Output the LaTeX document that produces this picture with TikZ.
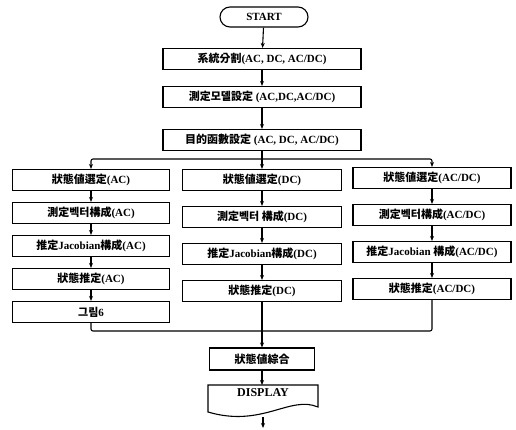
\documentclass[tikz,border=0pt]{standalone}
\usepackage{fontspec}
\setmainfont{Liberation Serif}
\newfontfamily\cjk{Noto Sans CJK KR}
\newcommand\kk[1]{{\cjk\bfseries #1}}
\usetikzlibrary{arrows.meta}
\tikzset{
  box/.style={draw, line width=1.1pt, minimum height=21pt, inner sep=0pt,
              font=\bfseries\fontsize{11}{13}\selectfont},
  lbox/.style={box, minimum width=157pt},
  mbox/.style={box, minimum width=159pt},
  rbox/.style={box, minimum width=158pt},
  tbox/.style={box, minimum width=198pt},
  ln/.style={line width=1.1pt},
  arr/.style={line width=1.1pt, -{Stealth[length=5pt,width=4pt]}},
}
\begin{document}
\begin{tikzpicture}[x=1pt,y=-1pt]
\useasboundingbox (0,0) rectangle (516,430);
% top
\node[box, rounded corners=10pt, minimum width=88pt, minimum height=20pt] (start) at (264,17) {START};
\node[tbox] (b1) at (262,59) {\kk{系統分割}(AC, DC, AC/DC)};
\node[tbox] (b2) at (262,97) {\kk{測定모델設定} (AC,DC,AC/DC)};
\node[tbox] (b3) at (262,140) {\kk{目的函數設定} (AC, DC, AC/DC)};
% left column
\node[lbox] (l1) at (91,180) {\kk{狀態値選定}(AC)};
\node[lbox] (l2) at (91,213) {\kk{測定벡터構成}(AC)};
\node[lbox] (l3) at (91,246) {\kk{推定}Jacobian\kk{構成}(AC)};
\node[lbox] (l4) at (91,279) {\kk{狀態推定}(AC)};
\node[lbox] (l5) at (91,312) {\kk{그림}6};
% middle column
\node[mbox] (m1) at (262,180) {\kk{狀態値選定}(DC)};
\node[mbox] (m2) at (262,217) {\kk{測定벡터 構成}(DC)};
\node[mbox] (m3) at (262,254) {\kk{推定}Jacobian\kk{構成}(DC)};
\node[mbox] (m4) at (262,291) {\kk{狀態推定}(DC)};
% right column
\node[rbox] (r1) at (432,178) {\kk{狀態値選定}(AC/DC)};
\node[rbox] (r2) at (432,215) {\kk{測定벡터構成}(AC/DC)};
\node[rbox] (r3) at (432,252) {\kk{推定}Jacobian \kk{構成}(AC/DC)};
\node[rbox] (r4) at (432,289) {\kk{狀態推定}(AC/DC)};
% bottom
\node[box, minimum width=105pt, minimum height=22pt] (s) at (262,359) {\kk{狀態値綜合}};
\node[anchor=north, inner sep=0pt, font=\bfseries\fontsize{12}{14}\selectfont] (disp) at (263,388) {DISPLAY};
\draw[ln] (208,385) -- (318,385) -- (318,407)
  .. controls (290,395) and (262,428) .. (208,412) -- cycle;
\coordinate (dtop) at (262,385);
\coordinate (dispb) at (263,417);
\coordinate (endp) at (263,428);
\coordinate (sp) at (262,159);
\coordinate (mg) at (262,331);
% connectors
\draw[arr] (start) -- (b1);
\draw[arr] (b1) -- (b2);
\draw[arr] (b2) -- (b3);
\draw[arr] (b3) -- (m1);
\draw[arr, rounded corners=2pt] (sp) -| (l1.north);
\draw[arr, rounded corners=2pt] (sp) -| (r1.north);
\draw[arr] (l1) -- (l2);
\draw[arr] (l2) -- (l3);
\draw[arr] (l3) -- (l4);
\draw[arr] (l4) -- (l5);
\draw[arr] (m1) -- (m2);
\draw[arr] (m2) -- (m3);
\draw[arr] (m3) -- (m4);
\draw[arr] (r1) -- (r2);
\draw[arr] (r2) -- (r3);
\draw[arr] (r3) -- (r4);
\draw[ln, rounded corners=2pt] (l5.south) |- (mg);
\draw[ln, rounded corners=2pt] (r4.south) |- (mg);
\draw[arr] (m4) -- (s);
\draw[arr] (s) -- (dtop);
\draw[arr] (dispb) -- (endp);
\end{tikzpicture}
\end{document}
